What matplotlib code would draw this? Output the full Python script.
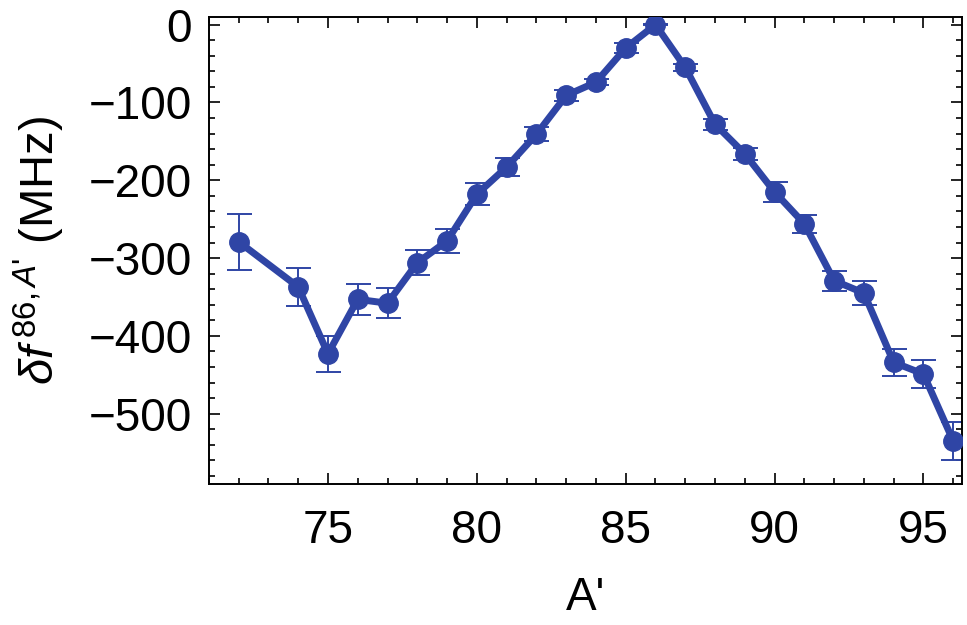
import matplotlib
matplotlib.use("Agg")
import matplotlib.pyplot as plt
from matplotlib.ticker import MultipleLocator

plt.rcParams['font.family'] = ['Liberation Sans', 'DejaVu Sans']
plt.rcParams['mathtext.fontset'] = 'custom'
plt.rcParams['mathtext.rm'] = 'Liberation Sans'
plt.rcParams['mathtext.it'] = 'Liberation Sans:italic'

# mass number A' and isotope shift relative to 86 (MHz)
mass = [72, 74, 75, 76, 77, 78, 79, 80, 81, 82, 83, 84, 85, 86,
        87, 88, 89, 90, 91, 92, 93, 94, 95, 96]
shift = [-279, -337, -423, -353, -358, -306, -278, -218, -183, -141, -91, -74, -30, 0,
         -55, -128, -166, -215, -256, -329, -345, -434, -449, -535]
err = [36, 24, 23, 20, 19, 16, 15, 14, 11, 9, 7, 4, 6, 1,
       4, 7, 8, 13, 12, 13, 15, 17, 18, 24]

col = '#2f45a5'

fig = plt.figure(figsize=(9.67, 6.25), dpi=100)
ax = fig.add_axes([0.216, 0.226, 0.779, 0.747])

ax.errorbar(mass, shift, yerr=err, fmt='none', ecolor=col, elinewidth=1.4,
            capsize=9, capthick=1.4)
ax.plot(mass, shift, color=col, lw=5, marker='o', ms=14, zorder=3)

ax.set_xlim(71.0, 96.3)
ax.set_ylim(-590, 10)
ax.xaxis.set_major_locator(MultipleLocator(5))
ax.xaxis.set_minor_locator(MultipleLocator(1))
ax.yaxis.set_major_locator(MultipleLocator(100))
ax.yaxis.set_minor_locator(MultipleLocator(20))
ax.tick_params(which='both', direction='in', top=True, right=True, width=1.2)
ax.tick_params(which='major', length=8, labelsize=33)
ax.tick_params(axis='y', which='major', pad=12)
ax.tick_params(axis='x', which='major', pad=18)
ax.tick_params(which='minor', length=4)
for s in ax.spines.values():
    s.set_linewidth(1.4)

ax.set_xlabel("A'", fontsize=33, labelpad=17)
ax.set_ylabel(r"$\delta f^{\,86,A\text{'}}$ (MHz)", fontsize=34, labelpad=16)

fig.savefig('out.png', dpi=100)
